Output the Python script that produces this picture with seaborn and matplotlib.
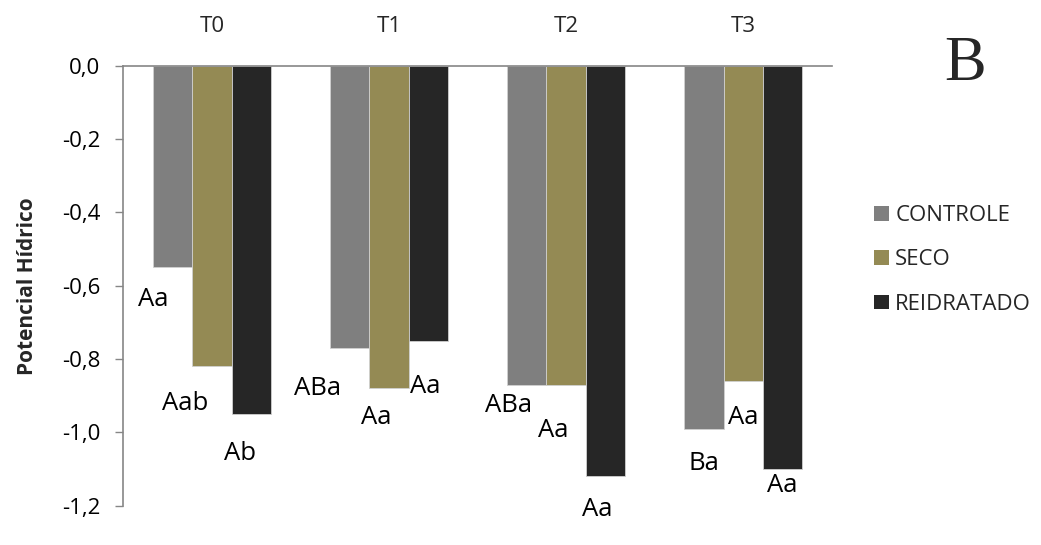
import matplotlib
matplotlib.use("Agg")
import matplotlib.pyplot as plt
from matplotlib.patches import Patch
import pandas as pd
import seaborn as sns

# Water potential per sampling time and treatment
tempos = ["T0", "T1", "T2", "T3"]
tratamentos = ["CONTROLE", "SECO", "REIDRATADO"]
controle = [-0.55, -0.77, -0.87, -0.99]
seco = [-0.82, -0.88, -0.87, -0.86]
reidratado = [-0.95, -0.75, -1.12, -1.10]

# Significance letters for each bar (same order as the series)
letras_controle = ["Aa", "ABa", "ABa", "Ba"]
letras_seco = ["Aab", "Aa", "Aa", "Aa"]
letras_reidratado = ["Ab", "Aa", "Aa", "Aa"]

yticks = [0.0, -0.2, -0.4, -0.6, -0.8, -1.0, -1.2]

cores = ["#7f7f7f", "#948a54", "#262626"]

df = pd.DataFrame({
    "tempo": tempos * 3,
    "tratamento": [t for t in tratamentos for _ in tempos],
    "potencial": controle + seco + reidratado,
})

sns.set_theme(style="white")
plt.rcParams["font.family"] = ["Open Sans", "DejaVu Sans"]

fig = plt.figure(figsize=(10.41, 5.45), dpi=100)
ax = fig.add_axes([0.1185, 0.0721, 0.6805, 0.8074])

largura = 0.667
sns.barplot(data=df, x="tempo", y="potencial", hue="tratamento",
            hue_order=tratamentos, order=tempos, palette=cores,
            saturation=1, width=largura, errorbar=None, legend=False,
            ax=ax, edgecolor="#d0d0d0", linewidth=0.6)

ax.set_ylim(-1.2, 0.0)
ax.set_xlim(-0.5, len(tempos) - 0.5)
ax.set_yticks(yticks)
ax.set_yticklabels([f"{v:.1f}".replace(".", ",") for v in yticks], fontsize=16)
ax.xaxis.tick_top()
ax.tick_params(axis="x", length=0, pad=21, labelsize=16)
ax.tick_params(axis="y", length=5.5, width=1, color="#868686", direction="out",
               left=True, pad=11, labelcolor="black")
ax.set_xlabel("")
ax.set_ylabel("Potencial Hídrico", fontsize=15, fontweight="bold", labelpad=17)

for lado in ["right", "bottom"]:
    ax.spines[lado].set_visible(False)
for lado in ["top", "left"]:
    ax.spines[lado].set_visible(True)
    ax.spines[lado].set_color("#868686")
    ax.spines[lado].set_linewidth(1.2)

# Letter placement: horizontal shift from bar centre, vertical drop below bar end
series = [controle, seco, reidratado]
letras = [letras_controle, letras_seco, letras_reidratado]
desloc_x = [[-0.11, -0.18, -0.10, 0.0],
            [-0.15, -0.07, -0.074, 0.0],
            [-0.065, -0.02, -0.048, 0.0]]
desloc_y = [[-0.089, -0.11, -0.056, -0.094],
            [-0.10, -0.08, -0.124, -0.10],
            [-0.107, -0.126, -0.09, -0.044]]
passo = largura / len(tratamentos)
for j, (vals, labs) in enumerate(zip(series, letras)):
    for i, (v, lab) in enumerate(zip(vals, labs)):
        xc = i + (j - 1) * passo
        ax.text(xc + desloc_x[j][i], v + desloc_y[j][i], lab,
                ha="center", va="center", fontsize=18.5, color="black",
                clip_on=False)

handles = [Patch(facecolor=c, edgecolor="none") for c in cores]
fig.legend(handles, tratamentos, loc="center left",
           bbox_to_anchor=(0.8395, 0.523), frameon=False, fontsize=16,
           handlelength=0.66, handleheight=0.66, handletextpad=0.3,
           labelspacing=1.05, borderaxespad=0, borderpad=0)

fig.text(0.927, 0.880, "B", fontsize=45, family="Liberation Serif",
         ha="center", va="center")

fig.savefig("out.png", dpi=100)
